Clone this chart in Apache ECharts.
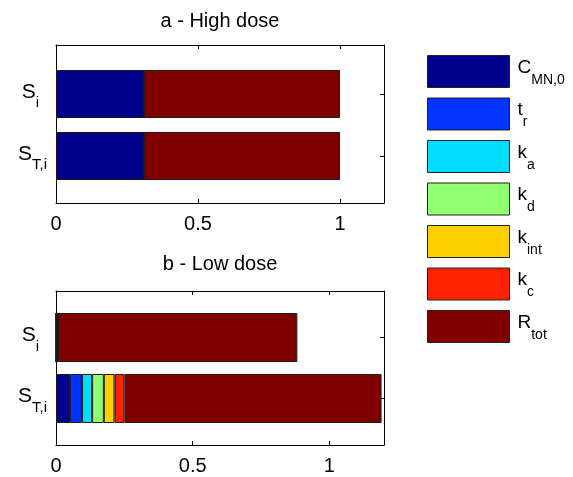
<!DOCTYPE html>
<html><head><meta charset="utf-8">
<script src="https://cdn.jsdelivr.net/npm/echarts@6/dist/echarts.min.js"></script>
<style>html,body{margin:0;padding:0;background:#fff}#c{width:573px;height:477px}</style>
</head><body><div id="c"></div>
<script>
// ---- data ----
const categories = ['S_i', 'S_T,i'];
const factors = ['C_MN,0', 't_r', 'k_a', 'k_d', 'k_int', 'k_c', 'R_tot'];
const colors = ['#00008c', '#0033ff', '#00ddff', '#90ff70', '#ffd000', '#ff2200', '#800000'];
const titles = ['a - High dose', 'b - Low dose'];
// values per factor (same order as factors)
const highSi  = [0.309, 0, 0, 0, 0, 0, 0.691];
const highSTi = [0.309, 0, 0, 0, 0, 0, 0.691];
const lowSi   = [0, 0, 0.007, 0, 0, 0, 0.876];
const lowSTi  = [0.051, 0.044, 0.037, 0.043, 0.039, 0.037, 0.940];
const xMax = [1.155, 1.2];
const xTickStep = 0.5;

// ---- layout ----
const FONT = 'Liberation Sans, Arial, sans-serif';
const L = 56, W = 328;
const frames = [{top: 45, height: 158}, {top: 291, height: 154}];
const barBoxes = [{top: 63, height: 124, bw: 48}, {top: 307, height: 122, bw: 49}];

function splitSub(s) { const i = s.indexOf('_'); return [s.slice(0, i), s.slice(i + 1)]; }

const grid = [], xAxis = [], yAxis = [], series = [];
const panels = [[highSi, highSTi], [lowSi, lowSTi]];
panels.forEach((p, k) => {
  grid.push({left: L, width: W, top: frames[k].top, height: frames[k].height});
  grid.push({left: L, width: W, top: barBoxes[k].top, height: barBoxes[k].height});
  const g0 = 2 * k, g1 = 2 * k + 1;
  const fmt = v => (Math.abs(v / xTickStep - Math.round(v / xTickStep)) < 1e-6 ? String(v) : '');
  const xBase = {type: 'value', min: 0, max: xMax[k], interval: xTickStep, splitLine: {show: false}};
  const xi = xAxis.length;
  xAxis.push(Object.assign({}, xBase, {gridIndex: g0, position: 'bottom',
    axisLine: {show: true, onZero: false, lineStyle: {color: '#000', width: 1}},
    axisTick: {show: true, inside: true, length: 4, lineStyle: {color: '#000'}},
    axisLabel: {show: true, color: '#000', fontSize: 20, fontFamily: FONT, margin: 11, formatter: fmt, showMaxLabel: false}}));
  xAxis.push(Object.assign({}, xBase, {gridIndex: g0, position: 'top',
    axisLine: {show: true, onZero: false, lineStyle: {color: '#000', width: 1}},
    axisTick: {show: true, inside: true, length: 4, lineStyle: {color: '#000'}},
    axisLabel: {show: false}}));
  xAxis.push(Object.assign({}, xBase, {gridIndex: g1, show: false}));
  const yi = yAxis.length;
  yAxis.push({type: 'value', gridIndex: g0, position: 'left', min: 0, max: 1,
    axisLine: {show: true, onZero: false, lineStyle: {color: '#000', width: 1}},
    axisTick: {show: false}, axisLabel: {show: false}, splitLine: {show: false}});
  yAxis.push({type: 'value', gridIndex: g0, position: 'right', min: 0, max: 1,
    axisLine: {show: true, onZero: false, lineStyle: {color: '#000', width: 1}},
    axisTick: {show: false}, axisLabel: {show: false}, splitLine: {show: false}});
  yAxis.push({type: 'category', gridIndex: g1, position: 'left', inverse: true, data: categories,
    axisLine: {show: false}, axisTick: {show: false},
    axisLabel: {show: true, margin: 9, color: '#000', fontFamily: FONT,
      formatter: v => { const [a, b] = splitSub(v); return '{m|' + a + '}{' + (b === 'i' ? 'si' : 's') + '|' + b + '}'; },
      rich: {
        m: {fontSize: 21, fontFamily: FONT, color: '#000', padding: [0, 0, 4, 0]},
        s: {fontSize: 15, fontFamily: FONT, color: '#000', padding: [18, 0, 0, 0]},
        si: {fontSize: 15, fontFamily: FONT, color: '#000', padding: [18, 8, 0, 0]}
      }}});
  yAxis.push({type: 'category', gridIndex: g1, position: 'right', inverse: true, data: categories,
    axisLine: {show: false},
    axisTick: {show: true, inside: true, length: 4, alignWithLabel: true, lineStyle: {color: '#000'}},
    axisLabel: {show: false}});
  factors.forEach((f, j) => {
    series.push({type: 'bar', name: f, stack: 'panel' + k, xAxisIndex: xi + 2, yAxisIndex: yi + 2,
      barWidth: barBoxes[k].bw, data: [p[0][j], p[1][j]],
      itemStyle: {color: colors[j], borderColor: '#1a1a1a', borderWidth: 1},
      emphasis: {disabled: true}});
  });
});

const option = {
  animation: false,
  backgroundColor: '#fff',
  color: colors,
  grid: grid, xAxis: xAxis, yAxis: yAxis, series: series,
  legend: {
    data: factors, orient: 'vertical', left: 427, top: 55, padding: 0,
    itemWidth: 82, itemHeight: 32, itemGap: 9.5, icon: 'rect', selectedMode: false,
    itemStyle: {borderColor: '#222', borderWidth: 1},
    formatter: name => { const [a, b] = splitSub(name); return '{m|' + a + '}{s|' + b + '}'; },
    textStyle: {color: '#000', fontFamily: FONT, rich: {
      m: {fontSize: 19, fontFamily: FONT, color: '#000', padding: [0, 0, 8, 3]},
      s: {fontSize: 14, fontFamily: FONT, color: '#000', padding: [17, 0, 0, 0]}
    }}
  },
  graphic: titles.map((t, k) => ({type: 'text', x: L + W / 2, y: k === 0 ? 21 : 264,
    style: {text: t, fill: '#000', font: '20px ' + FONT, align: 'center', verticalAlign: 'middle'}}))
};
echarts.init(document.getElementById('c')).setOption(option);
</script>
</body></html>
